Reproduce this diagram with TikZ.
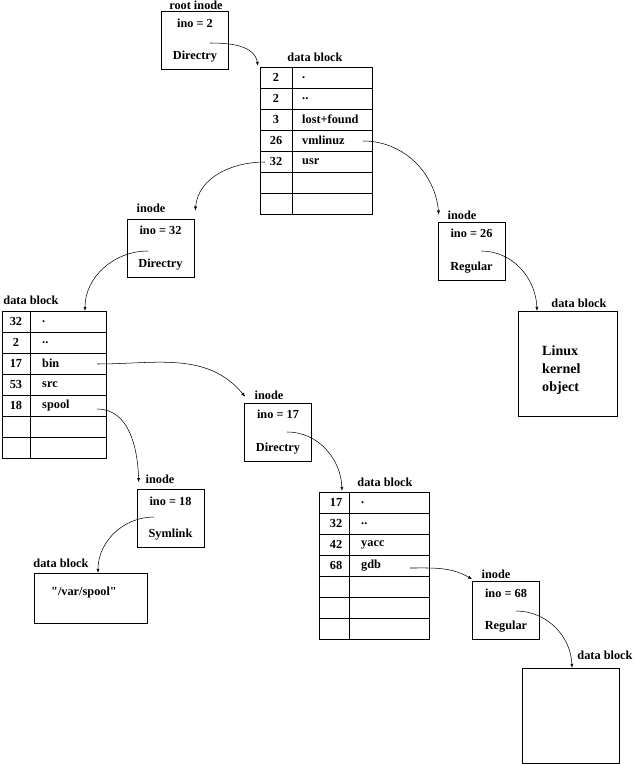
\documentclass[tikz,border=0pt]{standalone}
\usepackage{fontspec}
\setmainfont{Liberation Serif}[Ligatures=TeXOff]
\usetikzlibrary{arrows.meta,calc}

\begin{document}
\begin{tikzpicture}[
    x=0.03cm, y=-0.03cm,
    every node/.style={font=\fontsize{10.5}{12.5}\selectfont\bfseries, inner sep=0pt},
    inode/.style={draw, align=center, minimum width=2.01cm, minimum height=1.74cm},
    tbl/.style={draw, anchor=north west, minimum height=4.41cm},
    plain/.style={draw, anchor=north west},
    entry/.style={anchor=west},
    ptr/.style={-{Latex[length=3.6pt,width=2.6pt]}, line width=0.45pt}
]
\useasboundingbox (0,0) rectangle (634,764);

% inodes
\node[inode] (root) at (195,40.5) {ino = 2\\[15pt]Directry};
\node (rootlbl) at (196,5) {root inode};
\node[inode] (ino32) at (160.5,248) {ino = 32\\[15pt]Directry};
\node (ino32lbl) at (151,208) {inode};
\node[inode] (ino26) at (471.5,251) {ino = 26\\[15pt]Regular};
\node (ino26lbl) at (462,215) {inode};
\node[inode] (ino17) at (278,432) {ino = 17\\[15pt]Directry};
\node (ino17lbl) at (269,395) {inode};
\node[inode] (ino18) at (170.5,518.5) {ino = 18\\[15pt]Symlink};
\node (ino18lbl) at (160,479) {inode};
\node[inode] (ino68) at (506,610.5) {ino = 68\\[15pt]Regular};
\node (ino68lbl) at (496,574) {inode};

% directory blocks
\node[tbl, minimum width=3.36cm] (blk1) at (260,67) {};
\node (blk1lbl) at (315,57) {data block};
\draw ($(blk1.north west)+(32,0)$) -- ($(blk1.south west)+(32,0)$);
\foreach \k in {1,...,6}
  \draw ($(blk1.north west)+(0,21*\k)$) -- ($(blk1.north east)+(0,21*\k)$);
\foreach \n/\e [count=\k] in {2/., 2/.., 3/lost+found, 26/vmlinuz, 32/usr} {
  \node (b1n\k) at ($(blk1.north west)+(16,21*\k-10.5)$) {\n};
  \node[entry] (b1e\k) at ($(blk1.north west)+(42,21*\k-10.5)$) {\e};
}

\node[tbl, minimum width=3.12cm] (blk2) at (2,311) {};
\node (blk2lbl) at (31,300) {data block};
\draw ($(blk2.north west)+(28,0)$) -- ($(blk2.south west)+(28,0)$);
\foreach \k in {1,...,6}
  \draw ($(blk2.north west)+(0,21*\k)$) -- ($(blk2.north east)+(0,21*\k)$);
\foreach \n/\e [count=\k] in {32/., 2/.., 17/bin, 53/src, 18/spool} {
  \node (b2n\k) at ($(blk2.north west)+(14,21*\k-10.5)$) {\n};
  \node[entry] (b2e\k) at ($(blk2.north west)+(40,21*\k-10.5)$) {\e};
}

\node[tbl, minimum width=3.3cm] (blk3) at (319,492) {};
\node (blk3lbl) at (385,482) {data block};
\draw ($(blk3.north west)+(30,0)$) -- ($(blk3.south west)+(30,0)$);
\foreach \k in {1,...,6}
  \draw ($(blk3.north west)+(0,21*\k)$) -- ($(blk3.north east)+(0,21*\k)$);
\foreach \n/\e [count=\k] in {17/., 32/.., 42/yacc, 68/gdb} {
  \node (b3n\k) at ($(blk3.north west)+(17,21*\k-10.5)$) {\n};
  \node[entry] (b3e\k) at ($(blk3.north west)+(42,21*\k-10.5)$) {\e};
}

% file blocks
\node[plain, minimum width=2.97cm, minimum height=3.15cm] (linux) at (518,311) {};
\node (linuxlbl) at (579,303) {data block};
\node[align=left, anchor=west, font=\fontsize{12}{15.3}\selectfont\bfseries] (linuxtxt) at (542,370) {Linux\\kernel\\object};
\node[plain, minimum width=3.39cm, minimum height=1.5cm] (spool) at (34,573) {};
\node (spoollbl) at (61,563) {data block};
\node (spooltxt) at (84,593) {"/var/spool"};
\node[plain, minimum width=2.91cm, minimum height=2.85cm] (blk4) at (522,668) {};
\node (blk4lbl) at (605,655) {data block};

% pointers
\coordinate (p2) at (210,43);
\coordinate (p32) at (265,162);
\coordinate (p26) at (363,141);
\coordinate (q32) at (148,251);
\coordinate (p17) at (97,364);
\coordinate (p18) at (97,409);
\coordinate (q17) at (287,432);
\coordinate (q18) at (154,517);
\coordinate (p68) at (410,568);
\coordinate (q26) at (481,251);
\coordinate (q68) at (516,611);

\draw[ptr] (p2) to[out=0, in=100] ($(blk1.north west)+(-2,-1)$);
\draw[ptr] (p32) to[out=180, in=85] ($(ino32.north east)+(1,-8)$);
\draw[ptr] (p26) to[out=0, in=95] ($(ino26.north west)+(1,-7)$);
\draw[ptr] (q32) to[out=180, in=90] ($(blk2.north west)+(83,0)$);
\draw[ptr] (p17) to[out=0, in=130] ($(ino17.north west)+(1,-6)$);
\draw[ptr] (p18) to[out=0, in=92] ($(ino18.north west)+(2,-7)$);
\draw[ptr] (q17) to[out=0, in=92] ($(blk3.north west)+(23,-1)$);
\draw[ptr] (q18) to[out=180, in=90] ($(spool.north west)+(64,0)$);
\draw[ptr] (p68) to[out=0, in=150] ($(ino68.north west)+(0,-2)$);
\draw[ptr] (q26) to[out=0, in=92] ($(linux.north west)+(19,0)$);
\draw[ptr] (q68) to[out=0, in=92] ($(blk4.north west)+(50,0)$);
\end{tikzpicture}
\end{document}
